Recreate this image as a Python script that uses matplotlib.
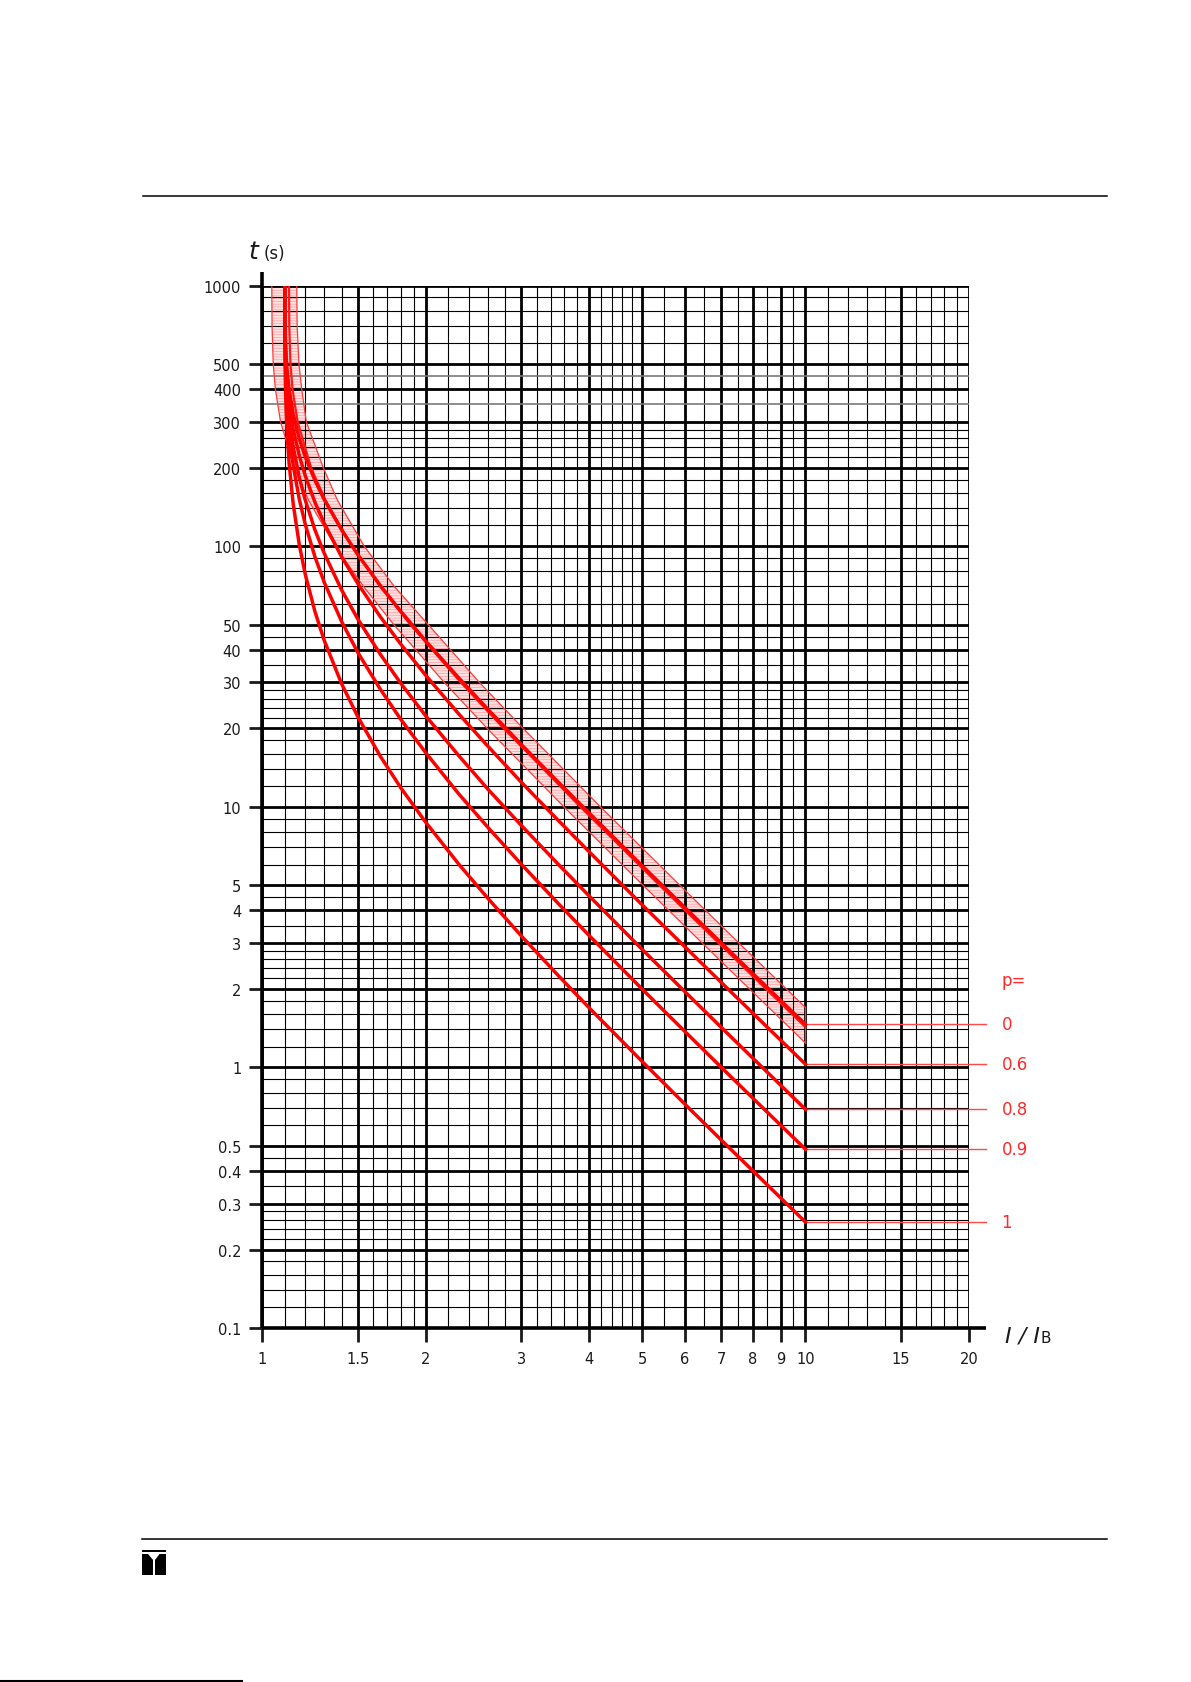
import matplotlib
matplotlib.use('Agg')
import matplotlib.pyplot as plt
from matplotlib.ticker import NullLocator
from matplotlib.patches import Rectangle, Polygon

# ---------------- data ----------------
current = [1.1, 1.101, 1.103, 1.106, 1.11, 1.12, 1.14, 1.17, 1.2, 1.25, 1.3, 1.4,
           1.5, 1.65, 1.8, 2.0, 2.3, 2.6, 3.0, 3.5, 4.0, 5.0, 6.0, 7.0, 8.0, 10.0]
t_p0 = [1000, 757, 626, 543, 482, 401, 321, 258, 220, 178.7, 151.0, 115.3,
        92.6, 70.5, 56.1, 43.2, 31.2, 23.7, 17.3, 12.48, 9.44, 5.95, 4.10, 3.00, 2.29, 1.461]
t_p06 = [1000, 715, 584, 501, 441, 360, 282, 222, 186, 147.3, 122.3, 90.9,
         71.7, 53.5, 42.0, 31.9, 22.7, 17.1, 12.4, 8.90, 6.71, 4.21, 2.90, 2.116, 1.614, 1.028]
t_p08 = [1000, 667, 536, 454, 395, 315, 240, 183, 150, 115.4, 93.9, 67.8,
         52.4, 38.4, 29.7, 22.3, 15.7, 11.7, 8.47, 6.04, 4.54, 2.84, 1.95, 1.423, 1.085, 0.690]
t_p09 = [1000, 625, 494, 413, 354, 276, 204, 151, 121, 91.0, 72.7, 51.3,
         39.0, 28.2, 21.6, 16.1, 11.2, 8.35, 6.01, 4.27, 3.20, 2.00, 1.372, 1.000, 0.762, 0.485]
t_p1 = [1000, 548, 419, 339, 282, 209, 145, 101, 77.8, 56.1, 43.5, 29.6,
        22.1, 15.6, 11.8, 8.71, 6.02, 4.46, 3.19, 2.26, 1.69, 1.055, 0.722, 0.526, 0.401, 0.255]
p_labels = ['0', '0.6', '0.8', '0.9', '1']

# tolerance band around p = 0
band_upper_x = [1.1572, 1.1592, 1.1681, 1.182, 1.205, 1.295, 1.375, 1.54, 1.75,
                2.02, 2.51, 3.02, 4.19, 5.87, 7.54, 9.22, 10.0]
band_upper_t = [1000, 700, 500, 400, 300, 200, 150, 100, 70,
                50, 30, 20, 10, 5, 3, 2, 1.698]
band_lower_x = [1.0411, 1.0421, 1.0475, 1.0569, 1.0804, 1.1444, 1.2165, 1.3614, 1.5358,
                1.7457, 2.1625, 2.5931, 3.5892, 5.021, 6.454, 7.887, 9.097, 10.0]
band_lower_t = [1000, 700, 500, 400, 300, 200, 150, 100, 70,
                50, 30, 20, 10, 5, 3, 2, 1.5, 1.240]
# second line inside the band
inner_x = [1.1201, 1.1211, 1.1268, 1.1366, 1.1616, 1.2296, 1.3066, 1.4615, 1.6482,
           1.8730, 2.3195, 2.7808, 3.8485, 5.3835, 6.9194, 8.4558, 10.0]
inner_t = [1000, 700, 500, 400, 300, 200, 150, 100, 70,
           50, 30, 20, 10, 5, 3, 2, 1.426]

x_major = [1, 1.5, 2, 3, 4, 5, 6, 7, 8, 9, 10, 15, 20]
x_major_labels = ['1', '1.5', '2', '3', '4', '5', '6', '7', '8', '9', '10', '15', '20']
x_minor = [1.1, 1.2, 1.3, 1.4, 1.6, 1.7, 1.8, 1.9, 2.2, 2.4, 2.6, 2.8, 3.2, 3.4, 3.6, 3.8,
           4.2, 4.4, 4.6, 4.8, 5.5, 6.5, 7.5, 8.5, 9.5, 11, 12, 13, 14, 16, 17, 18, 19]
y_major = [0.1, 0.2, 0.3, 0.4, 0.5, 1, 2, 3, 4, 5, 10, 20, 30, 40, 50, 100, 200, 300, 400, 500, 1000]
y_major_labels = ['0.1', '0.2', '0.3', '0.4', '0.5', '1', '2', '3', '4', '5', '10', '20', '30',
                  '40', '50', '100', '200', '300', '400', '500', '1000']
y_minor_steps = [1.2, 1.4, 1.6, 1.8, 2.2, 2.4, 2.6, 2.8, 3.5, 4.5, 6, 7, 8, 9]
y_decades = [0.1, 1, 10, 100]
y_gray = [350, 450]

# ---------------- figure ----------------
W, H = 1191, 1683
fig = plt.figure(figsize=(W / 100, H / 100), dpi=100)
page = fig.add_axes([0, 0, 1, 1])
page.set_xlim(0, W)
page.set_ylim(H, 0)
page.axis('off')

L, R, T, B = 262.3, 969.0, 286.5, 1329.0
ax = fig.add_axes([L / W, 1 - B / H, (R - L) / W, (B - T) / H])
ax.set_xscale('log')
ax.set_yscale('log')
ax.set_xlim(1, 20)
ax.set_ylim(0.1, 1000)
for s in ax.spines.values():
    s.set_visible(False)
ax.patch.set_alpha(0)

plt.rcParams['hatch.linewidth'] = 0.5

# grid
for v in x_minor:
    ax.axvline(v, color='black', lw=0.8, zorder=2)
for v in x_major:
    ax.axvline(v, color='black', lw=2.0, zorder=2)
for d in y_decades:
    for s in y_minor_steps:
        v = d * s
        if v in y_gray:
            continue
        ax.axhline(v, color='black', lw=0.8, zorder=2)
for v in y_gray:
    ax.axhline(v, color='#7a7a7a', lw=1.2, zorder=2)
for v in y_major:
    ax.axhline(v, color='black', lw=2.0, zorder=2)

# extended axis lines
ax.plot([1, 1], [0.1, 1131], color='black', lw=2.6, clip_on=False, zorder=5,
        solid_capstyle='butt')
ax.plot([1, 21.5], [0.1, 0.1], color='black', lw=2.6, clip_on=False, zorder=5,
        solid_capstyle='butt')

# ticks
ax.set_xticks(x_major)
ax.set_xticklabels(x_major_labels)
ax.set_yticks(y_major)
ax.set_yticklabels(y_major_labels)
ax.xaxis.set_minor_locator(NullLocator())
ax.yaxis.set_minor_locator(NullLocator())
ax.tick_params(axis='x', which='major', length=10, width=2, direction='out', pad=6.5,
               labelsize=10.5, colors='#1a1a1a')
ax.tick_params(axis='y', which='major', length=9.4, width=2, direction='out', pad=5.8,
               labelsize=10.5, colors='#1a1a1a')

# tolerance band
poly_x = band_upper_x + band_lower_x[::-1]
poly_t = band_upper_t + band_lower_t[::-1]
ax.fill(poly_x, poly_t, facecolor='#ffe2e2', edgecolor='#ff9c9c', hatch='------',
        lw=0, zorder=1)
ax.plot(band_upper_x, band_upper_t, color='#ff3a3a', lw=0.9, zorder=4)
ax.plot(band_lower_x, band_lower_t, color='#ff3a3a', lw=0.9, zorder=4)
ax.plot([band_upper_x[-1], band_lower_x[-1]], [band_upper_t[-1], band_lower_t[-1]],
        color='#ff3a3a', lw=0.9, zorder=4)
ax.plot(inner_x, inner_t, color='#ff1a1a', lw=1.6, zorder=4)

# curves
series = [t_p0, t_p06, t_p08, t_p09, t_p1]
for ts, lab in zip(series, p_labels):
    ax.plot(current, ts, color='#ff0000', lw=2.5, zorder=5, solid_joinstyle='round')
    ax.plot([current[-1], 21.5], [ts[-1], ts[-1]], color='#ff4a4a', lw=1.0,
            clip_on=False, zorder=4)
    ax.text(22.96, ts[-1], lab, color='#ff2a2a', fontsize=12, va='center', ha='left',
            clip_on=False)
ax.text(22.96, 2.17, 'p=', color='#ff2a2a', fontsize=12, va='center', ha='left',
        clip_on=False)

# axis titles
page.text(248, 259, 't', fontsize=18, fontstyle='italic', va='baseline', ha='left',
          color='#1a1a1a')
page.text(264, 259, '(s)', fontsize=12, va='baseline', ha='left', color='#1a1a1a')
page.text(1005, 1343, 'I / I', fontsize=16, fontstyle='italic', va='baseline', ha='left',
          color='#1a1a1a')
page.text(1041, 1343, 'B', fontsize=11, va='baseline', ha='left', color='#1a1a1a')

# page decorations
page.plot([143, 1107], [196.6, 196.6], color='black', lw=1.1)
page.plot([142, 1107], [1540, 1540], color='black', lw=1.1)
page.plot([0, 242], [1681.5, 1681.5], color='black', lw=1.5)
# logo: black square with a white T cut out
page.add_patch(Rectangle((141.7, 1551), 24, 24.7, facecolor='black', edgecolor='none'))
page.add_patch(Rectangle((141.7, 1553.4), 24, 1.6, facecolor='white', edgecolor='none'))
page.add_patch(Polygon([[148.0, 1555.0], [159.5, 1555.0], [155.4, 1560.5], [152.6, 1560.5]],
                       closed=True, facecolor='white', edgecolor='none'))
page.add_patch(Rectangle((152.6, 1559), 2.8, 16.7, facecolor='white', edgecolor='none'))

fig.savefig('out.png', dpi=100)
